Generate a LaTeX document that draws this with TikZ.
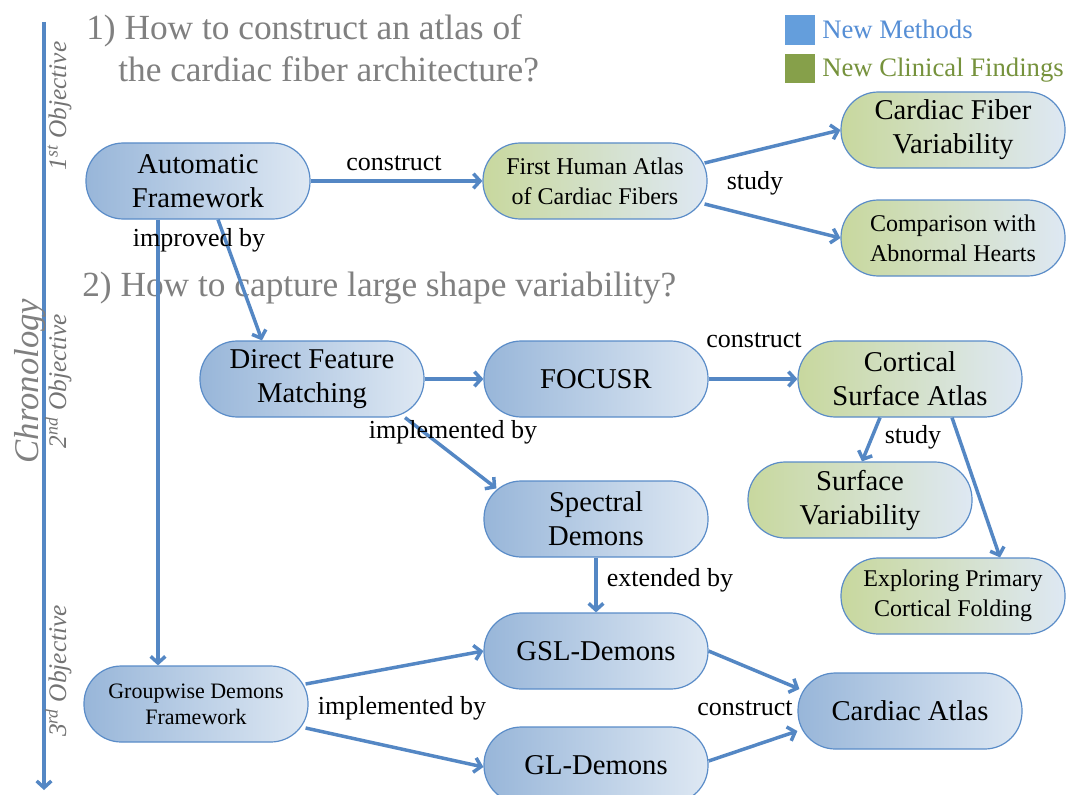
\documentclass[tikz,border=0pt]{standalone}
\usepackage{fontspec}
\setmainfont{Liberation Serif}
\usetikzlibrary{arrows.meta,calc}

\definecolor{edgeblue}{RGB}{84,135,196}
\definecolor{nodeborder}{RGB}{90,140,200}
\definecolor{blueL}{RGB}{152,182,217}
\definecolor{blueR}{RGB}{222,232,243}
\definecolor{greenL}{RGB}{200,216,158}
\definecolor{greenR}{RGB}{222,232,243}
\definecolor{headgray}{RGB}{128,128,128}
\definecolor{legblue}{RGB}{100,158,220}
\definecolor{legbluetext}{RGB}{85,142,213}
\definecolor{leggreen}{RGB}{134,160,74}
\definecolor{leggreentext}{RGB}{118,146,60}

\begin{document}
\begin{tikzpicture}[x=0.75pt,y=-0.75pt,
  box/.style={rectangle, rounded corners=28pt, draw=nodeborder, line width=0.9pt,
    minimum width=168pt, minimum height=57pt, align=center, inner sep=2pt},
  method/.style={box, left color=blueL, right color=blueR},
  finding/.style={box, left color=greenL, right color=greenR},
  big/.style={font=\fontsize{21.5}{25.5}\selectfont},
  small/.style={font=\fontsize{18}{22.5}\selectfont},
  tiny/.style={font=\fontsize{16.5}{19.5}\selectfont},
  link/.style={draw=edgeblue, line width=2.6pt, -{Straight Barb[length=5pt,width=11pt]}},
  lbl/.style={font=\fontsize{19.5}{23}\selectfont, inner sep=0pt},
  heading/.style={font=\fontsize{26.5}{32}\selectfont, text=headgray, inner sep=0pt, anchor=base west},
  objective/.style={font=\fontsize{19}{23}\selectfont\itshape, text=headgray!90!black, inner sep=0pt, rotate=90, anchor=base},
  legendtext/.style={font=\fontsize{20}{24}\selectfont, inner sep=0pt, anchor=base west},
]
\useasboundingbox (0,0) rectangle (1066,795);
\fill[white] (0,0) rectangle (1066,795);

% time axis on the left
\coordinate (axtop) at (44,22);
\coordinate (axbot) at (44,790);
\draw[link] (axtop) -- (axbot);
\node[font=\fontsize{26}{30}\selectfont\itshape, text=headgray, inner sep=0pt, rotate=90, anchor=base] (chrono) at (38,381) {Chronology};
\node[objective] (obj1) at (66,106) {1\textsuperscript{st} Objective};
\node[objective] (obj2) at (66,381) {2\textsuperscript{nd} Objective};
\node[objective] (obj3) at (66,671) {3\textsuperscript{rd} Objective};

% questions
\node[heading] (q1a) at (86,40) {1) How to construct an atlas of};
\node[heading] (q1b) at (118,82) {the cardiac fiber architecture?};
\node[heading] (q2) at (82,296) {2) How to capture large shape variability?};

% legend
\fill[legblue] (785,15) rectangle (815,45);
\fill[leggreen] (785,54) rectangle (815,83);
\node[legendtext, text=legbluetext] (legm) at (822,39) {New Methods};
\node[legendtext, text=leggreentext] (legf) at (822,77) {New Clinical Findings};

% nodes
\node[method, big] (auto) at (198,181) {Automatic\\Framework};
\node[finding, small] (first) at (595,181) {First Human Atlas\\of Cardiac Fibers};
\node[finding, big] (cfv) at (953,130) {Cardiac Fiber\\Variability};
\node[finding, small] (cmp) at (953,238) {Comparison with\\Abnormal Hearts};
\node[method, big] (dfm) at (312,379) {Direct Feature\\Matching};
\node[method, big] (focusr) at (596,379) {FOCUSR};
\node[finding, big] (cort) at (910,379) {Cortical\\Surface Atlas};
\node[method, big] (spec) at (596,519) {Spectral\\Demons};
\node[finding, big] (sv) at (860,500) {Surface\\Variability};
\node[finding, small] (expl) at (953,596) {Exploring Primary\\Cortical Folding};
\node[method, big] (gsl) at (596,651) {GSL-Demons};
\node[method, big] (ca) at (910,711) {Cardiac Atlas};
\node[method, big] (gl) at (596,765) {GL-Demons};
\node[method, tiny] (gw) at (196,704) {Groupwise Demons\\Framework};

% connectors
\draw[link] (auto) -- (first);
\draw[link] ($(first.east)+(-3,-18)$) -- (cfv.west);
\draw[link] ($(first.east)+(-3,23)$) -- (cmp.west);
\draw[link] ($(auto.south)+(20,0)$) -- ($(dfm.north)+(-50,0)$);
\draw[link] ($(auto.south)+(-40,0)$) -- ($(gw.north)+(-38,0)$);
\draw[link] (dfm) -- (focusr);
\draw[link] (focusr) -- (cort);
\draw[link] ($(dfm.south)+(93,0)$) -- ($(spec.north west)+(13,8)$);
\draw[link] ($(cort.south)+(-30,0)$) -- ($(sv.north)+(2,0)$);
\draw[link] ($(cort.south)+(42,0)$) -- ($(expl.north)+(47,0)$);
\draw[link] (spec) -- (gsl);
\draw[link] ($(gw.east)+(-3,-20)$) -- (gsl.west);
\draw[link] ($(gw.east)+(-3,24)$) -- ($(gl.west)+(0,2)$);
\draw[link] (gsl.east) -- ($(ca.west)+(2,-22)$);
\draw[link] ($(gl.east)+(0,-4)$) -- ($(ca.west)+(0,20)$);

% connector labels
\node[lbl] (l1) at (394,163) {construct};
\node[lbl] (l2) at (755,183) {study};
\node[lbl] (l3) at (199,240) {improved by};
\node[lbl] (l4) at (754,340) {construct};
\node[lbl] (l5) at (453,432) {implemented by};
\node[lbl] (l6) at (913,437) {study};
\node[lbl] (l7) at (670,580) {extended by};
\node[lbl] (l8) at (402,708) {implemented by};
\node[lbl] (l9) at (745,708) {construct};
\end{tikzpicture}
\end{document}
